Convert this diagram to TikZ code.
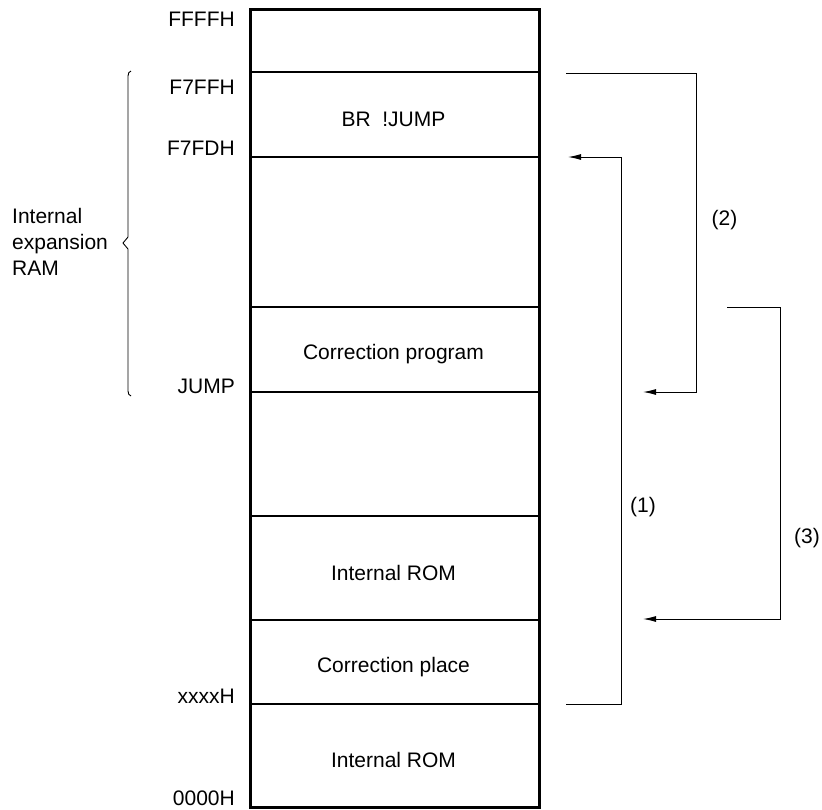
\documentclass[tikz,border=0pt]{standalone}
\usepackage{fontspec}
\setmainfont{Liberation Sans}
\usetikzlibrary{arrows.meta}
\begin{document}
\begin{tikzpicture}[x=1pt,y=-1pt,
  lbl/.style={font=\fontsize{21}{26}\selectfont, inner sep=0pt},
  addr/.style={lbl, anchor=base east},
  txt/.style={lbl, anchor=base},
  divider/.style={line width=1.2pt},
  conn/.style={line width=1pt},
  arr/.style={conn, -{Latex[length=13pt,width=6pt]}}
]
\useasboundingbox (0,0) rectangle (822,809);

% memory map box
\node[draw, line width=2.5pt, minimum width=289pt, minimum height=798pt, inner sep=0pt, anchor=north west] (map) at (249,8) {};

% dividers
\foreach \yy/\nm in {72/a,157/b,307/c,392/d,516/e,620/f,704/g}{
  \coordinate (L\nm) at (map.west |- 0,\yy);
  \coordinate (R\nm) at (map.east |- 0,\yy);
  \draw[divider] (L\nm) -- (R\nm);
}

% contents
\node[txt] (t1) at (393.5,126) {BR\ \ !JUMP};
\node[txt] (t2) at (393.5,359) {Correction program};
\node[txt] (t3) at (393.5,580) {Internal ROM};
\node[txt] (t4) at (393.5,672) {Correction place};
\node[txt] (t5) at (393.5,767) {Internal ROM};

% addresses
\node[addr] (a1) at (235,26) {FFFFH};
\node[addr] (a2) at (235,94) {F7FFH};
\node[addr] (a3) at (235,155) {F7FDH};
\node[addr] (a4) at (235,393) {JUMP};
\node[addr] (a5) at (235,703) {xxxxH};
\node[addr] (a6) at (235,805) {0000H};

% brace
\draw[line width=0.9pt] (131,71) .. controls (129,72) and (128,73) .. (128,76)
  -- (128,237) -- (123,243) -- (128,249) -- (128,391)
  .. controls (128,394) and (129,395) .. (131,396);
\node[lbl, align=left, anchor=base west] (ram) at (12,275) {Internal\\expansion\\RAM};

% connectors
\coordinate (s1) at (566,704);
\coordinate (e1) at (568,157);
\draw[arr] (s1) -- (621,704) |- (e1);
\node[lbl] (n1) at (643,507) {(1)};

\coordinate (s2) at (566,73);
\coordinate (e2) at (643,392);
\draw[arr] (s2) -- (696,73) |- (e2);
\node[lbl] (n2) at (724.5,220) {(2)};

\coordinate (s3) at (727,307);
\coordinate (e3) at (643,619);
\draw[arr] (s3) -- (780,307) |- (e3);
\node[lbl] (n3) at (807,538) {(3)};
\end{tikzpicture}
\end{document}
